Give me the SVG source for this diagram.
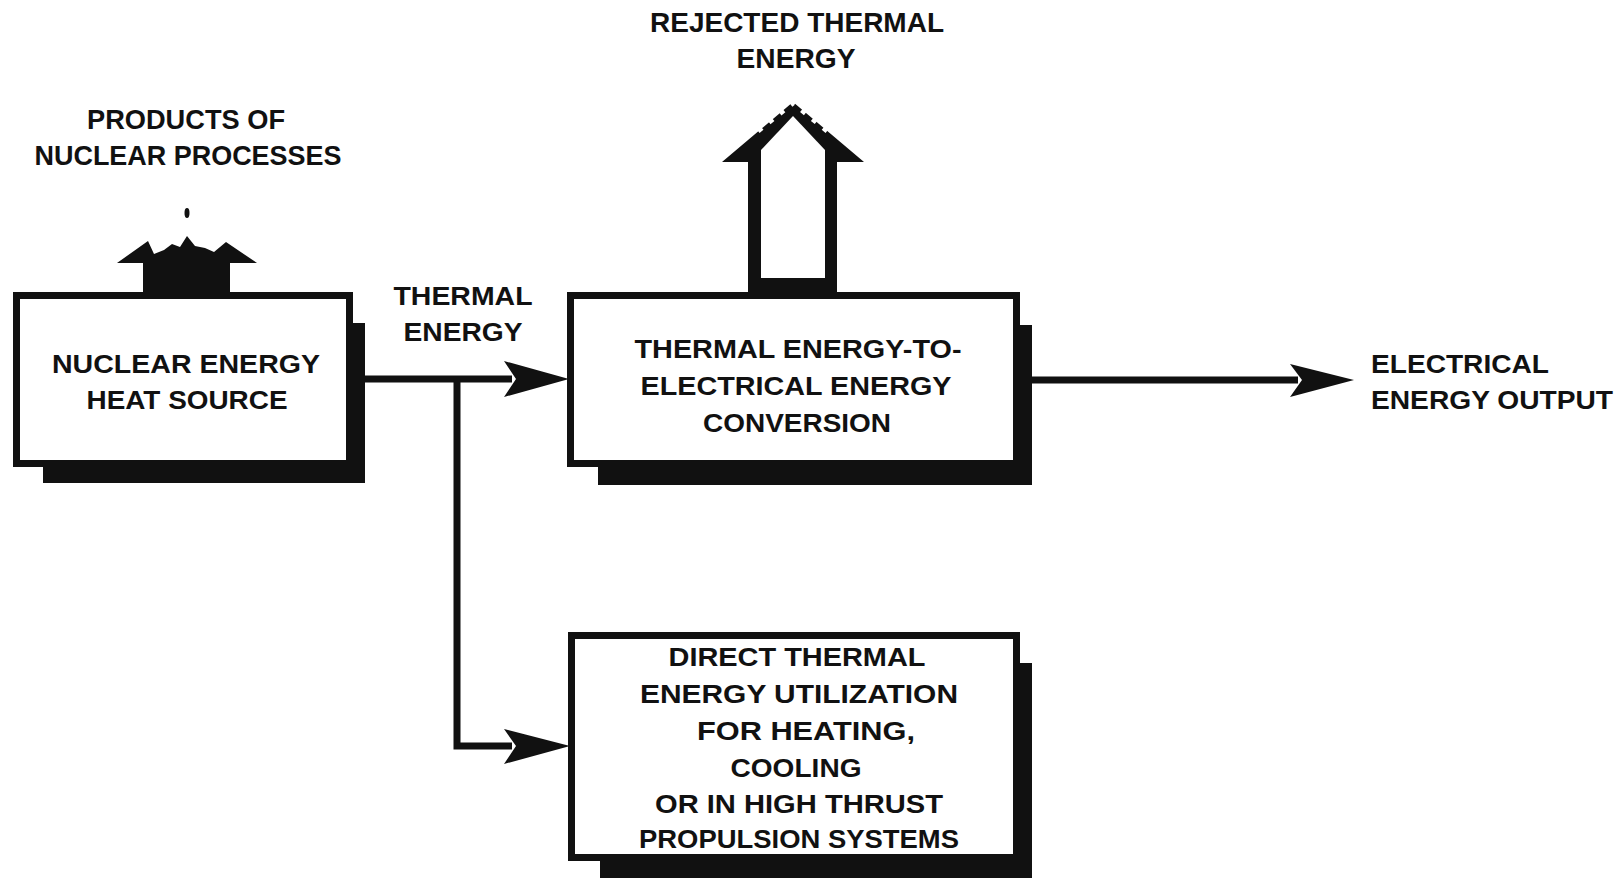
<svg xmlns="http://www.w3.org/2000/svg" width="1621" height="878" viewBox="0 0 1621 878">
<style>
  text { font-family: "Liberation Sans", Arial, sans-serif; font-weight: bold; font-size: 26px; fill: #111; }
  text.top { font-size: 28px; }
  text.c { text-anchor: middle; }
  .box { fill: #fff; stroke: #111; stroke-width: 7; }
  .shadow { fill: #111; }
  .line { fill: none; stroke: #111; stroke-width: 7; stroke-linejoin: miter; stroke-linecap: butt; }
  .head { fill: #111; }
</style>
<rect width="1621" height="878" fill="#fff"/>

<g id="products-arrow">
  <path fill="#111" d="M143,292 L143,263 L117,263 L148,241 L154,254 L164,250 L172,244 L180,247 L187,236 L195,246 L205,248 L214,252 L226,242 L257,263 L230,263 L230,292 Z"/>
  <ellipse cx="187" cy="213" rx="2.5" ry="5" fill="#111"/>
</g>

<g id="rejected-arrow">
  <path fill="#111" d="M748,292 L748,162 L722,162 L793,102 L864,162 L837,162 L837,292 Z"/>
  <path fill="#fff" d="M761,278 L761,150 L793,116 L825,150 L825,278 Z"/>
  <path fill="none" stroke="#fff" stroke-width="5" stroke-dasharray="5 9" d="M758,131 L793,103 L832,135"/>
</g>

<g id="connectors">
  <path class="line" d="M353,379 L512,379"/>
  <path class="head" d="M569,379 L504,361 L516,379 L504,397 Z"/>
  <path class="line" d="M457,379 L457,746 L512,746"/>
  <path class="head" d="M570,746 L504,729 L516,746 L504,764 Z"/>
  <path class="line" d="M1020,380 L1298,380"/>
  <path class="head" d="M1354,380 L1290,364 L1302,380 L1290,397 Z"/>
</g>

<g id="node-heat-source">
  <rect class="shadow" x="43" y="323" width="322" height="160"/>
  <rect class="box" x="16.5" y="295.5" width="333" height="168"/>
  <text class="c" x="186" y="373" textLength="268" lengthAdjust="spacingAndGlyphs">NUCLEAR ENERGY</text>
  <text class="c" x="187" y="409" textLength="201" lengthAdjust="spacingAndGlyphs">HEAT SOURCE</text>
</g>

<g id="node-conversion">
  <rect class="shadow" x="598" y="325" width="434" height="160"/>
  <rect class="box" x="570.5" y="295.5" width="446" height="168"/>
  <text class="c" x="798" y="358" textLength="327" lengthAdjust="spacingAndGlyphs">THERMAL ENERGY-TO-</text>
  <text class="c" x="796" y="395" textLength="311" lengthAdjust="spacingAndGlyphs">ELECTRICAL ENERGY</text>
  <text class="c" x="797" y="432" textLength="188" lengthAdjust="spacingAndGlyphs">CONVERSION</text>
</g>

<g id="node-direct">
  <rect class="shadow" x="600" y="663" width="432" height="230"/>
  <rect class="box" x="571.5" y="635.5" width="445" height="222"/>
  <text class="c" x="797" y="666" textLength="257" lengthAdjust="spacingAndGlyphs">DIRECT THERMAL</text>
  <text class="c" x="799" y="703" textLength="318" lengthAdjust="spacingAndGlyphs">ENERGY UTILIZATION</text>
  <text class="c" x="806" y="740" textLength="218" lengthAdjust="spacingAndGlyphs">FOR HEATING,</text>
  <text class="c" x="796" y="777" textLength="131" lengthAdjust="spacingAndGlyphs">COOLING</text>
  <text class="c" x="799" y="813" textLength="288" lengthAdjust="spacingAndGlyphs">OR IN HIGH THRUST</text>
  <text class="c" x="799" y="848" textLength="320" lengthAdjust="spacingAndGlyphs">PROPULSION SYSTEMS</text>
</g>

<g id="label-products">
  <text class="c top" x="186" y="129" textLength="198" lengthAdjust="spacingAndGlyphs">PRODUCTS OF</text>
  <text class="c top" x="188" y="165" textLength="307" lengthAdjust="spacingAndGlyphs">NUCLEAR PROCESSES</text>
</g>

<g id="label-rejected">
  <text class="c top" x="797" y="32" textLength="294" lengthAdjust="spacingAndGlyphs">REJECTED THERMAL</text>
  <text class="c top" x="796" y="68" textLength="119" lengthAdjust="spacingAndGlyphs">ENERGY</text>
</g>

<g id="label-thermal">
  <text class="c" x="463" y="305" textLength="139" lengthAdjust="spacingAndGlyphs">THERMAL</text>
  <text class="c" x="463" y="341" textLength="119" lengthAdjust="spacingAndGlyphs">ENERGY</text>
</g>

<g id="label-output">
  <text x="1371" y="373" textLength="178" lengthAdjust="spacingAndGlyphs">ELECTRICAL</text>
  <text x="1371" y="409" textLength="242" lengthAdjust="spacingAndGlyphs">ENERGY OUTPUT</text>
</g>
</svg>
